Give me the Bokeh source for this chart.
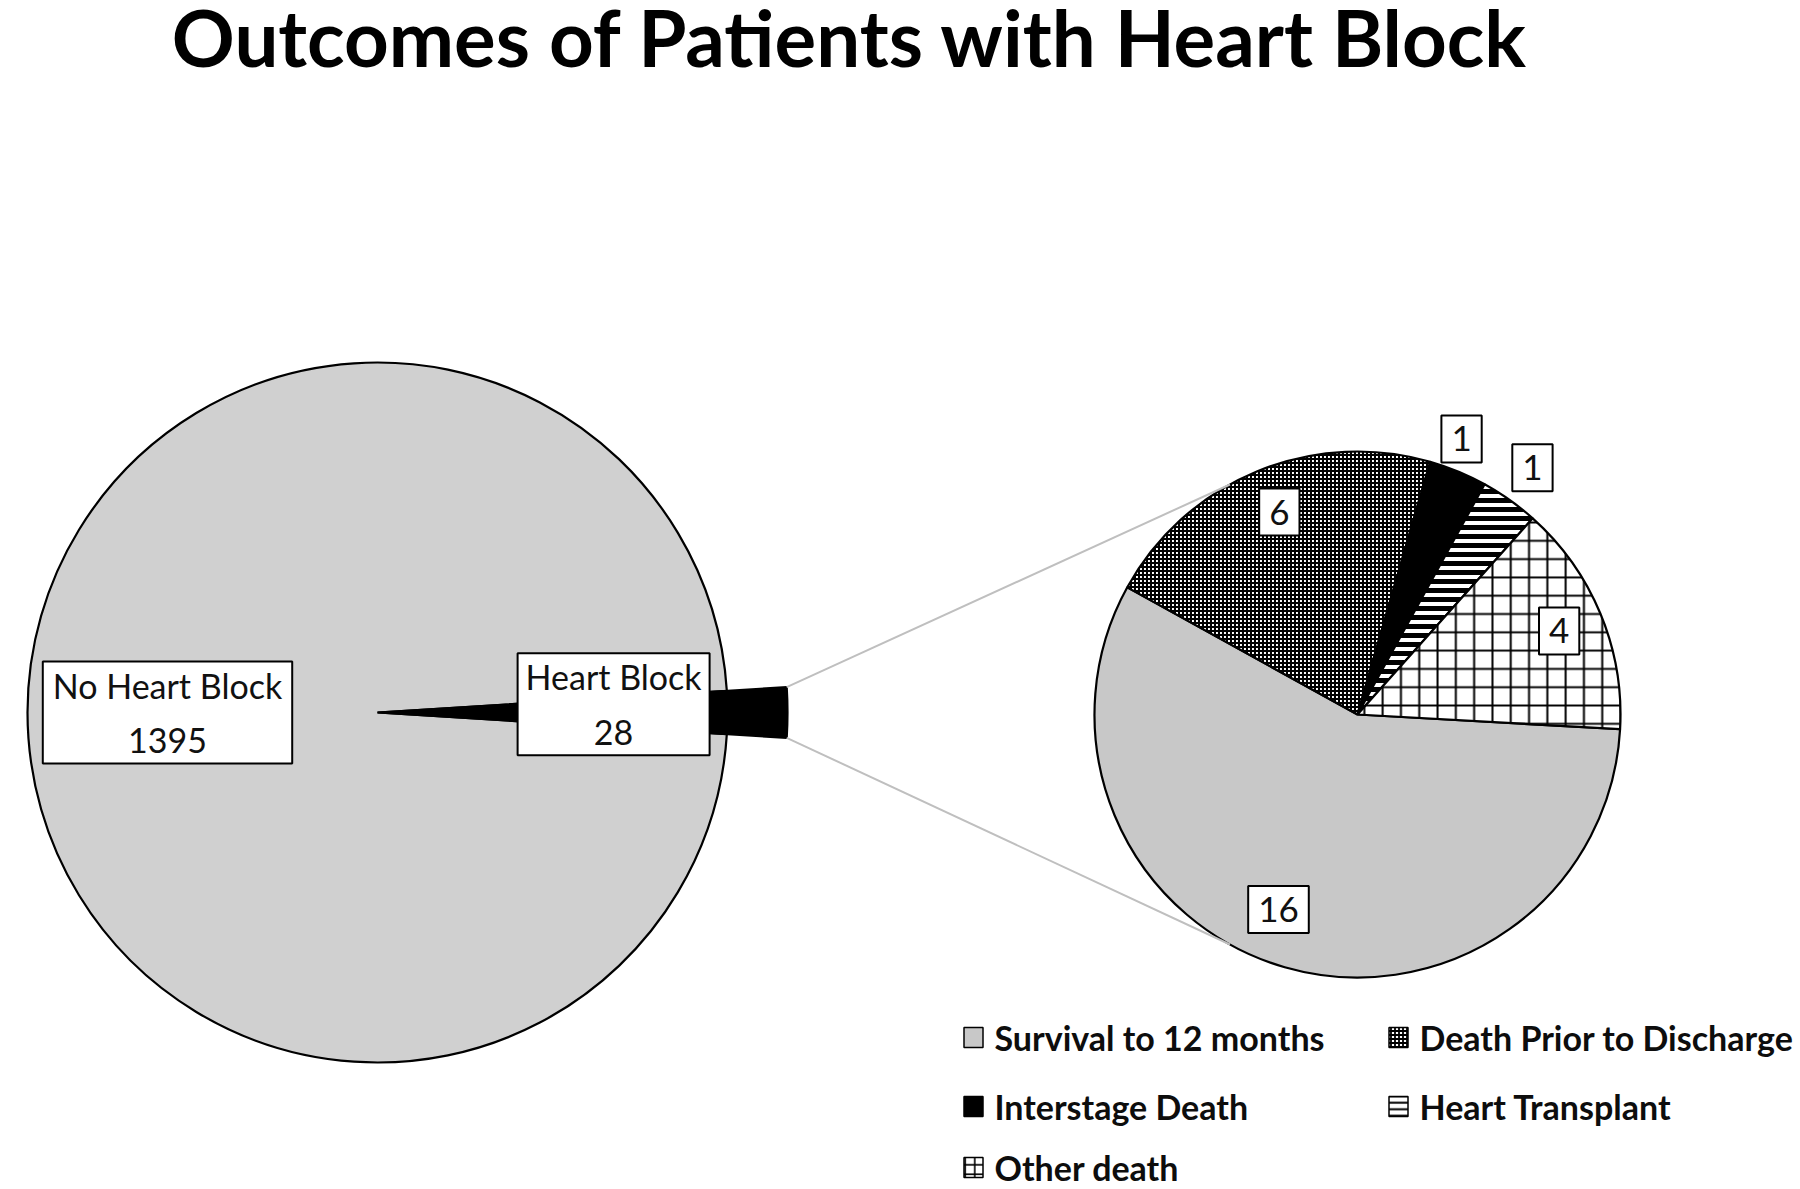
import math
from bokeh.plotting import figure
from bokeh.models import ColumnDataSource, Range1d
from bokeh.core.properties import value
from bokeh.embed import file_html
from bokeh.resources import INLINE

# ---------------- data ----------------
title_text = "Outcomes of Patients with Heart Block"
main_labels = ["No Heart Block", "Heart Block"]
main_values = [1395, 28]
sub_labels = ["Survival to 12 months", "Death Prior to Discharge",
              "Interstage Death", "Heart Transplant", "Other death"]
sub_values = [16, 6, 1, 1, 4]

# ---------------- layout / style ----------------
W, H = 1800, 1189
FONT = "Lato"


def px(x):
    return x


def py(y):
    return H - y


# primary pie
C1 = (px(377), py(712))
R1 = 350
R1_SPLIT = 410           # the split-off slice is drawn longer (exploded look)
# secondary pie
C2 = (px(1357), py(714))
R2 = 263
SUB_START = math.radians(-3.2)
CONNECT_ANGLE = math.radians(119)

sub_fill = ["#c8c8c8", "white", "black", "white", "white"]
sub_hatch = ["blank", "+", "blank", "-", "+"]
sub_hscale = [1, 4, 1, 9, 18.3]
sub_hweight = [1, 2.1, 1, 5, 2]
leg_hscale = [1, 4, 1, 6.5, 9.5]
leg_hweight = [1, 1.8, 1, 2, 1.6]

p = figure(width=W, height=H, x_range=Range1d(0, W), y_range=Range1d(0, H),
           output_backend="svg", toolbar_location=None, title=None,
           x_axis_location=None, y_axis_location=None, min_border=0)
p.outline_line_color = None
p.xgrid.visible = False
p.ygrid.visible = False
p.background_fill_color = "white"

# ---------------- primary pie ----------------
tot1 = sum(main_values)
hb_span = 2 * math.pi * main_values[1] / tot1
main_src = ColumnDataSource(dict(
    x=[C1[0], C1[0]], y=[C1[1], C1[1]],
    r=[R1, R1_SPLIT],
    start=[hb_span / 2, -hb_span / 2],
    end=[2 * math.pi - hb_span / 2, hb_span / 2],
    fill=["#d0d0d0", "black"],
))
p.wedge(x="x", y="y", radius="r", start_angle="start", end_angle="end",
        direction="anticlock", fill_color="fill", line_color="black",
        line_width=2.2, source=main_src)

# ---------------- secondary pie ----------------
tot2 = sum(sub_values)
starts, ends, mids = [], [], []
acc = 0.0
for v in sub_values:
    a0 = SUB_START - 2 * math.pi * acc / tot2
    a1 = a0 - 2 * math.pi * v / tot2
    starts.append(a0)
    ends.append(a1)
    mids.append((a0 + a1) / 2)
    acc += v
sub_src = ColumnDataSource(dict(
    x=[C2[0]] * 5, y=[C2[1]] * 5, start=starts, end=ends,
    fill=sub_fill, hatch=sub_hatch, hscale=sub_hscale, hweight=sub_hweight,
))
p.wedge(x="x", y="y", radius=R2, start_angle="start", end_angle="end",
        direction="clock", fill_color="fill", line_color="black",
        line_width=2.2, hatch_pattern="hatch", hatch_scale="hscale",
        hatch_weight="hweight", hatch_color="black", source=sub_src)

# connector lines
cx0 = [C1[0] + R1_SPLIT * math.cos(a) for a in (hb_span / 2, -hb_span / 2)]
cy0 = [C1[1] + R1_SPLIT * math.sin(a) for a in (hb_span / 2, -hb_span / 2)]
cx1 = [C2[0] + R2 * math.cos(a) for a in (CONNECT_ANGLE, -CONNECT_ANGLE)]
cy1 = [C2[1] + R2 * math.sin(a) for a in (CONNECT_ANGLE, -CONNECT_ANGLE)]
p.segment(x0=cx0, y0=cy0, x1=cx1, y1=cy1, line_color="#bfbfbf", line_width=2)

# ---------------- data labels ----------------
label_style = dict(text_font=value(FONT), text_color="#111111",
                   text_align="center", text_baseline="middle",
                   background_fill_color="white",
                   border_line_color="black", border_line_width=2)

# primary pie labels
main_mid = [math.pi, 0.0]
main_rf = [0.60, 0.675]
main_nudge = [0.0, math.radians(2)]
main_pad = [(10, 3), (8, 3)]
for i in range(2):
    a = main_mid[i] + main_nudge[i]
    r = R1 * main_rf[i]
    p.text(x=[C1[0] + r * math.cos(a)], y=[C1[1] + r * math.sin(a)],
           text=[f"{main_labels[i]}\n{main_values[i]}"],
           text_line_height=1.34, padding=main_pad[i],
           text_font_size="34px", **label_style)

# secondary pie labels
sub_rf = [0.80, 0.825, 1.12, 1.15, 0.83]
sub_nudge = [math.radians(a) for a in (-6, -1.4, 1.8, 0, 0)]
lx = [C2[0] + R2 * sub_rf[i] * math.cos(mids[i] + sub_nudge[i]) for i in range(5)]
ly = [C2[1] + R2 * sub_rf[i] * math.sin(mids[i] + sub_nudge[i]) for i in range(5)]
p.text(x=lx, y=ly, text=[str(v) for v in sub_values], padding=(10, 11),
       text_font_size="35px", **label_style)

# ---------------- legend ----------------
leg_col_x = [px(973), px(1398)]
leg_row_y = [py(1037), py(1106), py(1167)]
mx = [leg_col_x[i % 2] for i in range(5)]
my = [leg_row_y[i // 2] for i in range(5)]
leg_src = ColumnDataSource(dict(
    x=mx, y=my, tx=[x + 21 for x in mx], label=sub_labels,
    fill=sub_fill, hatch=sub_hatch, hscale=leg_hscale, hweight=leg_hweight,
))
p.rect(x="x", y="y", width=19, height=20, fill_color="fill",
       line_color="black", line_width=1.5, hatch_pattern="hatch",
       hatch_scale="hscale", hatch_weight="hweight", hatch_color="black",
       source=leg_src)
p.text(x="tx", y="y", text="label", text_font=value(FONT),
       text_font_style="bold", text_font_size="34px", text_color="#0d0d0d",
       text_align="left", text_baseline="middle", source=leg_src)

# ---------------- title ----------------
p.text(x=[px(850)], y=[py(36)], text=[title_text], text_font=value(FONT),
       text_font_style="bold", text_font_size="78px", text_color="black",
       text_align="center", text_baseline="middle")

open("out.html", "w").write(file_html(p, INLINE))
